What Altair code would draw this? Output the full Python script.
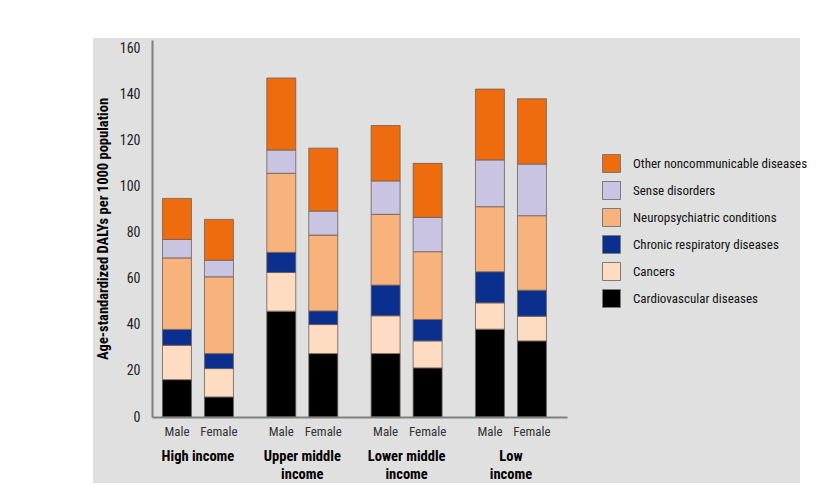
import altair as alt
import pandas as pd

groups = ["High income", "Upper middle income", "Lower middle income", "Low income"]
group_labels = ["High income", "Upper middle\nincome", "Lower middle\nincome", "Low\nincome"]
sexes = ["Male", "Female"]

# bottom -> top of each stack
causes = ["Cardiovascular diseases", "Cancers", "Chronic respiratory diseases",
          "Neuropsychiatric conditions", "Sense disorders", "Other noncommunicable diseases"]
colors = ["#000000", "#FDDCC2", "#0B2F8E", "#F8B27C", "#C8C4E2", "#EF6C0E"]

# order of bars: HI-M, HI-F, UM-M, UM-F, LM-M, LM-F, LI-M, LI-F
cardio = [16.2, 8.7, 45.9, 27.5, 27.5, 21.3, 38.1, 33.0]
cancers = [14.9, 12.3, 16.8, 12.6, 16.4, 11.7, 11.4, 10.7]
chronic = [6.9, 6.5, 8.7, 5.9, 13.3, 9.3, 13.5, 11.3]
neuro = [31.0, 33.3, 34.3, 32.9, 30.7, 29.4, 28.2, 32.3]
sense = [8.0, 7.2, 10.1, 10.4, 14.5, 14.9, 20.3, 22.4]
other = [17.8, 17.7, 31.2, 27.3, 24.0, 23.4, 30.7, 28.3]
series = [cardio, cancers, chronic, neuro, sense, other]

y_ticks = [0, 20, 40, 60, 80, 100, 120, 140, 160]

FONT = "Roboto Condensed, Roboto, sans-serif"

rows = []
for ci, (cause, vals) in enumerate(zip(causes, series)):
    for bi, v in enumerate(vals):
        rows.append({"group": groups[bi // 2], "sex": sexes[bi % 2],
                     "cause": cause, "idx": ci, "value": v})
df = pd.DataFrame(rows)

lab_rows = [{"group": g, "sex": s} for g in groups for s in sexes]
df_lab = pd.DataFrame(lab_rows)
df_grp = pd.DataFrame({"group": groups, "label": group_labels})

x_enc = alt.X("group:N", sort=groups,
              scale=alt.Scale(paddingInner=0.195, paddingOuter=0.0864, align=0.22),
              axis=alt.Axis(labels=False, ticks=False, title=None, domainColor="#7f7f7f",
                            domainWidth=2, grid=False, zindex=1))
xo_enc = alt.XOffset("sex:N", sort=sexes,
                     scale=alt.Scale(paddingInner=0.31, paddingOuter=0.155))

panel = alt.Chart(pd.DataFrame({"a": [0]})).mark_rect(color="#E0E0E0").encode(
    x=alt.value(-59), x2=alt.value(648), y=alt.value(-2), y2=alt.value(443))

bars = alt.Chart(df).mark_bar(stroke="#6e5f57", strokeWidth=0.8).encode(
    x=x_enc,
    xOffset=xo_enc,
    y=alt.Y("value:Q", stack="zero",
            scale=alt.Scale(domain=[0, 163.5], nice=False),
            axis=alt.Axis(values=y_ticks, ticks=False, labelPadding=12, grid=False,
                          domainColor="#7f7f7f", domainWidth=2, labelFontSize=14,
                          labelColor="#222", labelFont=FONT, zindex=1,
                          title="Age-standardized DALYs per 1000 population",
                          titleFont=FONT, titleFontSize=14.5, titleFontWeight="bold",
                          titleColor="#000", titlePadding=9)),
    color=alt.Color("cause:N", sort=causes[::-1],
                    scale=alt.Scale(domain=causes[::-1], range=colors[::-1]),
                    legend=alt.Legend(orient="none", legendX=450, legendY=114, title=None,
                                      symbolType="square", symbolSize=324,
                                      symbolStrokeColor="#7a7a7a", symbolStrokeWidth=1,
                                      symbolOpacity=1, labelFontSize=13, labelFont=FONT,
                                      labelColor="#111", labelOffset=12, rowPadding=4,
                                      padding=0, labelLimit=300)),
    order=alt.Order("idx:Q", sort="ascending"),
)

sex_text = alt.Chart(df_lab).mark_text(font=FONT, fontSize=13, color="#333",
                                       baseline="middle").encode(
    x=alt.X("group:N", sort=groups), xOffset=alt.XOffset("sex:N", sort=sexes),
    y=alt.value(392), text="sex:N")

grp_text = alt.Chart(df_grp).mark_text(font=FONT, fontSize=14.5, fontWeight="bold",
                                       color="#000", baseline="alphabetic",
                                       lineBreak="\n", lineHeight=18).encode(
    x=alt.X("group:N", sort=groups), y=alt.value(421), text="label:N")

chart = alt.layer(panel, bars, sex_text, grp_text).properties(
    width=415, height=377,
    autosize=alt.AutoSizeParams(type="none"),
    padding={"left": 144, "top": 32, "right": 245, "bottom": 68},
    background="white",
).configure_view(stroke=None)

chart.save("out.html", embed_options={"renderer": "svg", "actions": False})
